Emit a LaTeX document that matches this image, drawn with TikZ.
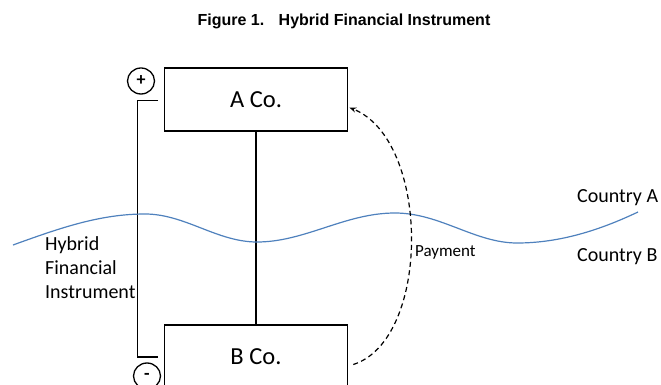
\documentclass[tikz,border=0pt]{standalone}
\usepackage{fontspec}
\setmainfont{Carlito}
\newfontfamily\titlefont{Liberation Sans}
\usetikzlibrary{arrows.meta,calc,shapes.geometric}
\definecolor{wave}{RGB}{79,129,189}
\tikzset{
  cobox/.style={draw, line width=1.5pt, minimum width=183pt, minimum height=63pt, inner sep=0pt, font=\fontsize{24.5}{28}\selectfont},
  lbl/.style={inner sep=0pt, font=\fontsize{20}{24}\selectfont},
  sign/.style={draw, line width=1.3pt, ellipse, minimum width=27pt, minimum height=26pt, inner sep=0pt, font=\bfseries\fontsize{18}{18}\selectfont},
}
\begin{document}
\begin{tikzpicture}[x=1pt,y=-1pt]
\useasboundingbox (0,0) rectangle (661,385);
\node[inner sep=0pt, font=\titlefont\bfseries\fontsize{16}{19}\selectfont] (title) at (344,21) {Figure 1.\hspace{0.9em}Hybrid Financial Instrument};
\node[cobox] (A) at (256,99.5) {A Co.};
\node[cobox] (B) at (256,356.5) {B Co.};
\draw[line width=1.5pt] (A.south) -- (B.north);
% bracket
\coordinate (bt) at (158,100.5);
\coordinate (tl) at (137.5,100.5);
\coordinate (bl) at (137.5,357);
\coordinate (bb) at (158,357);
\draw[line width=1.3pt] (bt) -- (tl) -- (bl) -- (bb);
\node[sign] (plus) at (141,81) {+};
\node[sign] (minus) at (147,376) {-};
% wave
\draw[wave, line width=1.2pt] (13,245) .. controls (60,228) and (100,214) .. (145,214)
  .. controls (185,214) and (217,242) .. (257,242)
  .. controls (305,242) and (345,213) .. (395,213)
  .. controls (440,213) and (475,243) .. (517,243)
  .. controls (560,243) and (600,230) .. (638,212);
% payment
\coordinate (ps) at ($(B.east)+(5,8)$);
\coordinate (pe) at ($(A.east)+(1,8)$);
\draw[line width=1.2pt, dash pattern=on 5pt off 3.5pt, -{Stealth[length=7pt,width=5pt]}] (ps) .. controls (431,340) and (431,140) .. (pe);
\node[inner sep=0pt, anchor=west, font=\fontsize{17}{20}\selectfont] (pay) at (415,252) {Payment};
\node[lbl, anchor=west] (ca) at (577,198) {Country A};
\node[lbl, anchor=west] (cb) at (577,257) {Country B};
\node[inner sep=0pt, anchor=west, align=left, font=\fontsize{20}{24}\selectfont] (hfi) at (45,268) {Hybrid\\Financial\\Instrument};
\end{tikzpicture}
\end{document}
